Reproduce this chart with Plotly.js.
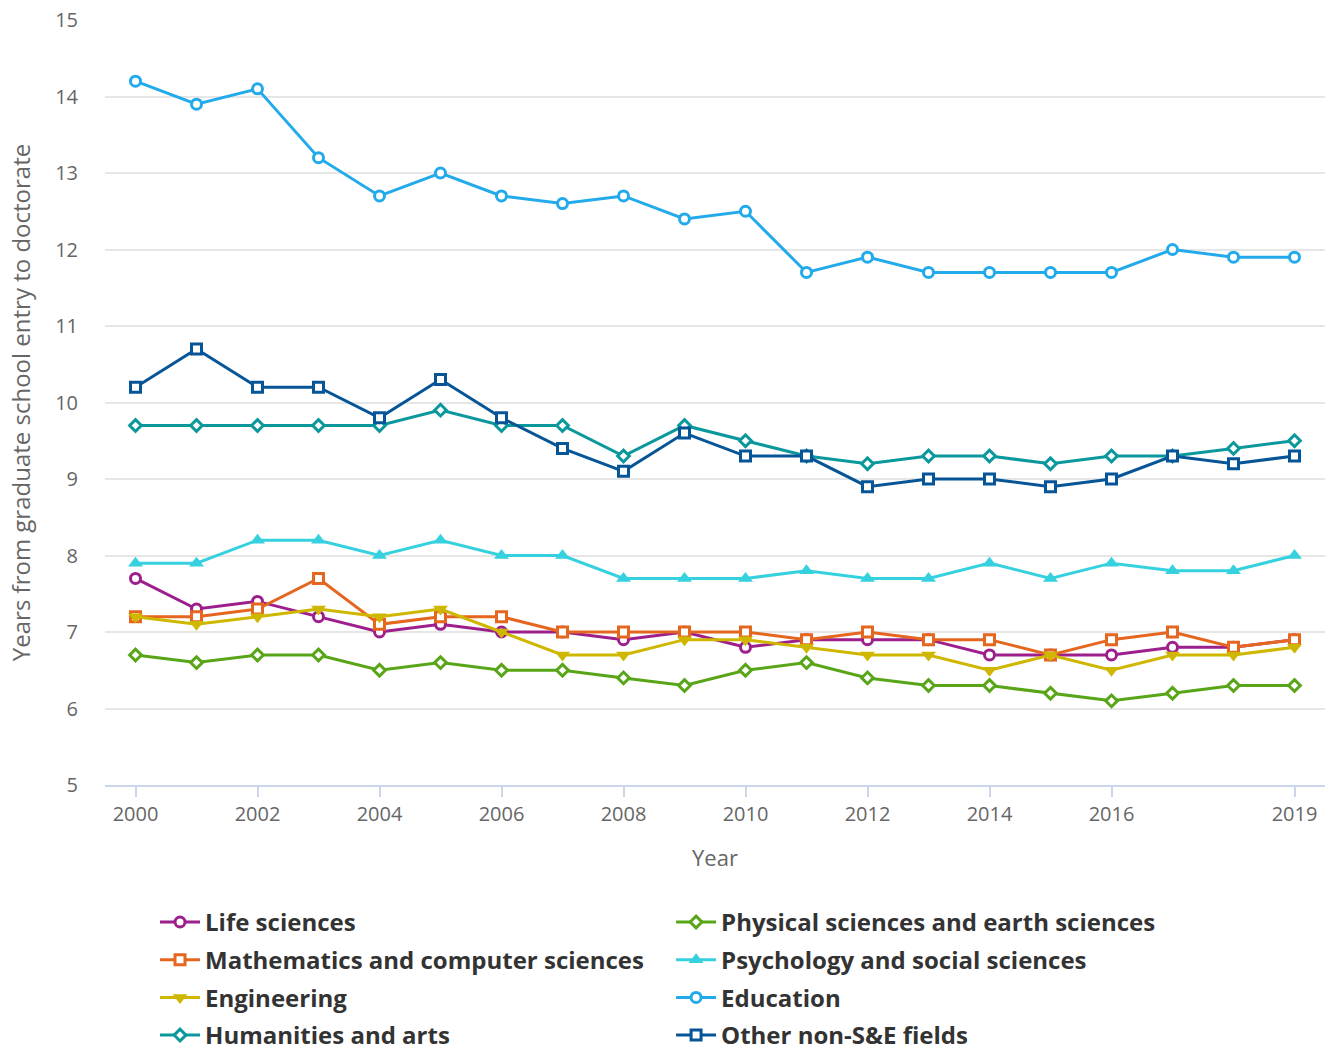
<!DOCTYPE html>
<html>
<head>
<meta charset="utf-8">
<script src="https://cdn.plot.ly/plotly-3.0.1.min.js"></script>
<style>body{margin:0;padding:0;background:#fff}#chart{width:1335px;height:1053px}</style>
</head>
<body>
<div id="chart"></div>
<script>
const years = [2000,2001,2002,2003,2004,2005,2006,2007,2008,2009,2010,2011,2012,2013,2014,2015,2016,2017,2018,2019];
const xTickVals = [2000,2002,2004,2006,2008,2010,2012,2014,2016,2019];
const lifeSciences = [7.7,7.3,7.4,7.2,7.0,7.1,7.0,7.0,6.9,7.0,6.8,6.9,6.9,6.9,6.7,6.7,6.7,6.8,6.8,6.9];
const mathComputer = [7.2,7.2,7.3,7.7,7.1,7.2,7.2,7.0,7.0,7.0,7.0,6.9,7.0,6.9,6.9,6.7,6.9,7.0,6.8,6.9];
const engineering = [7.2,7.1,7.2,7.3,7.2,7.3,7.0,6.7,6.7,6.9,6.9,6.8,6.7,6.7,6.5,6.7,6.5,6.7,6.7,6.8];
const physicalEarth = [6.7,6.6,6.7,6.7,6.5,6.6,6.5,6.5,6.4,6.3,6.5,6.6,6.4,6.3,6.3,6.2,6.1,6.2,6.3,6.3];
const psychSocial = [7.9,7.9,8.2,8.2,8.0,8.2,8.0,8.0,7.7,7.7,7.7,7.8,7.7,7.7,7.9,7.7,7.9,7.8,7.8,8.0];
const education = [14.2,13.9,14.1,13.2,12.7,13.0,12.7,12.6,12.7,12.4,12.5,11.7,11.9,11.7,11.7,11.7,11.7,12.0,11.9,11.9];
const humanitiesArts = [9.7,9.7,9.7,9.7,9.7,9.9,9.7,9.7,9.3,9.7,9.5,9.3,9.2,9.3,9.3,9.2,9.3,9.3,9.4,9.5];
const otherNonSE = [10.2,10.7,10.2,10.2,9.8,10.3,9.8,9.4,9.1,9.6,9.3,9.3,8.9,9.0,9.0,8.9,9.0,9.3,9.2,9.3];

function tr(name, y, color, symbol, legendRef, group) {
  let m;
  if (symbol === 'triangle-up' || symbol === 'triangle-down') {
    m = {symbol: symbol, size: 13, color: color, line: {width: 0}};
  } else if (symbol === 'diamond') {
    m = {symbol: symbol, size: 9, color: '#ffffff', line: {color: color, width: 3}};
  } else {
    m = {symbol: symbol, size: 10, color: '#ffffff', line: {color: color, width: 3}};
  }
  return {
    type: 'scatter', mode: 'lines+markers', name: name, x: years, y: y,
    line: {color: color, width: 3},
    marker: m,
    legend: legendRef, legendgroup: group,
    hoverinfo: 'x+y+name'
  };
}

const data = [
  tr('Life sciences', lifeSciences, '#9c1f8c', 'circle', 'legend', 'g1'),
  tr('Mathematics and computer sciences', mathComputer, '#e5661e', 'square', 'legend', 'g2'),
  tr('Engineering', engineering, '#cfb700', 'triangle-down', 'legend', 'g3'),
  tr('Humanities and arts', humanitiesArts, '#0a989c', 'diamond', 'legend', 'g4'),
  tr('Physical sciences and earth sciences', physicalEarth, '#58a618', 'diamond', 'legend2', 'g5'),
  tr('Psychology and social sciences', psychSocial, '#36d1de', 'triangle-up', 'legend2', 'g6'),
  tr('Education', education, '#22aaeb', 'circle', 'legend2', 'g7'),
  tr('Other non-S&E fields', otherNonSE, '#065597', 'square', 'legend2', 'g8')
];

const legendFont = {size: 24, color: '#333333', family: 'Open Sans, sans-serif', weight: 'bold'};
const legendYTop = 0.1454;

const layout = {
  width: 1335, height: 1053,
  margin: {l: 105, r: 10, t: 20, b: 268, autoexpand: false},
  paper_bgcolor: '#ffffff', plot_bgcolor: '#ffffff',
  font: {family: 'Open Sans, sans-serif', color: '#666666'},
  showlegend: true,
  xaxis: {
    range: [1999.5, 2019.5],
    tickmode: 'array', tickvals: xTickVals, ticktext: xTickVals.map(String),
    showgrid: false, zeroline: false,
    showline: true, linecolor: '#ccd6eb', linewidth: 2,
    ticks: 'outside', ticklen: 10, tickwidth: 2, tickcolor: '#ccd6eb',
    tickfont: {size: 20, color: '#666666'},
    title: {text: 'Year', font: {size: 22, color: '#666666'}, standoff: 25},
    automargin: false
  },
  yaxis: {
    range: [5, 15], dtick: 1, tick0: 5,
    showgrid: true, gridcolor: '#e6e6e6', gridwidth: 1.5,
    zeroline: false, showline: false,
    ticklabelstandoff: 26,
    tickfont: {size: 20, color: '#666666'},
    title: {text: 'Years from graduate school entry to doctorate', font: {size: 24, color: '#666666'}, standoff: 17},
    automargin: false
  },
  legend: {
    orientation: 'v', x: 0.041, xanchor: 'left', y: legendYTop, yref: 'container', yanchor: 'top',
    itemwidth: 40, font: legendFont, tracegroupgap: 3.5, traceorder: 'grouped'
  },
  legend2: {
    orientation: 'v', x: 0.464, xanchor: 'left', y: legendYTop, yref: 'container', yanchor: 'top',
    itemwidth: 40, font: legendFont, tracegroupgap: 3.5, traceorder: 'grouped'
  }
};

Plotly.newPlot('chart', data, layout, {displayModeBar: false, responsive: false});
</script>
</body>
</html>
